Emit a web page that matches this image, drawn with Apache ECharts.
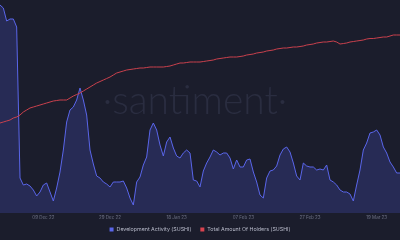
<!DOCTYPE html>
<html><head><meta charset="utf-8">
<script src="https://cdn.jsdelivr.net/npm/echarts@6/dist/echarts.min.js"></script>
<style>html,body{margin:0;padding:0;background:#1b1d2c}#c{width:400px;height:240px}</style>
</head><body><div id="c"></div>
<script>
const startDate = '2022-11-26';
const dayCount = 121;
const tickLabels = ['09 Dec 22','29 Dec 22','18 Jan 23','07 Feb 23','27 Feb 23','19 Mar 23'];
const devActivity = [41.6,41.0,38.4,38.8,38.8,37.2,7.0,5.6,5.8,5.4,4.6,3.4,4.2,5.6,6.0,4.2,2.4,5.0,8.2,12.6,
18.2,20.6,21.2,22.6,25.0,22.6,19.6,12.6,9.8,7.4,7.0,6.2,5.8,5.2,6.2,6.2,6.2,6.4,5.0,3.0,
1.6,6.2,7.2,9.6,11.2,16.6,18.0,16.6,13.6,11.4,14.2,15.2,13.0,11.4,11.0,12.0,12.6,12.0,6.6,6.4,
5.2,8.4,10.0,11.2,12.6,12.2,11.6,12.0,12.0,11.0,8.8,10.6,9.2,9.2,10.6,10.8,8.2,6.2,3.6,3.0,
7.0,8.4,8.6,9.4,11.6,12.8,13.2,12.2,10.0,7.4,6.6,10.0,9.4,9.2,9.2,8.6,8.8,8.6,9.6,6.6,
6.2,5.6,4.6,4.2,4.2,3.8,2.4,5.6,8.6,12.6,14.0,16.0,16.2,16.6,15.6,13.2,12.0,10.2,9.2,8.0,8.0];
const holders = [100000,100025,100050,100075,100125,100150,100200,100275,100325,100375,100400,100425,100450,100475,100500,100525,100550,100562,100575,100575,
100575,100625,100675,100712,100750,100800,100850,100900,100950,101000,101037,101075,101112,101150,101200,101250,101275,101300,101325,101337,
101350,101362,101375,101375,101387,101400,101400,101400,101400,101400,101412,101425,101450,101475,101500,101500,101512,101525,101525,101525,
101525,101537,101550,101562,101575,101600,101612,101625,101637,101650,101650,101650,101662,101675,101700,101712,101725,101750,101762,101775,
101800,101812,101825,101850,101862,101875,101875,101887,101900,101900,101912,101925,101950,101962,101975,102000,102012,102025,102025,102037,
102050,102025,101975,101987,102000,102025,102037,102050,102062,102075,102100,102112,102112,102125,102137,102150,102150,102175,102200,102200,102200];

const months = ['Jan','Feb','Mar','Apr','May','Jun','Jul','Aug','Sep','Oct','Nov','Dec'];
const categories = [];
const d0 = new Date(startDate + 'T00:00:00Z');
for (let i = 0; i < dayCount; i++) {
  const d = new Date(d0.getTime() + i * 86400000);
  categories.push(String(d.getUTCDate()).padStart(2,'0') + ' ' + months[d.getUTCMonth()] + ' ' + String(d.getUTCFullYear()).slice(2));
}

const chart = echarts.init(document.getElementById('c'), null, {renderer:'canvas'});
chart.setOption({
  backgroundColor: '#1b1d2c',
  animation: false,
  graphic: [{
    type: 'text', z: 0,
    style: { text: '·santiment·', x: 195, y: 101, align: 'center', verticalAlign: 'middle',
             fontSize: 39, fontFamily: 'Lato, "Open Sans", sans-serif', fontWeight: 300, fill: '#2a2d40' }
  }],
  legend: {
    bottom: 3, left: 'center', itemWidth: 4, itemHeight: 4, itemGap: 9, icon: 'rect',
    textStyle: { color: '#b9bccb', fontSize: 5.3, fontFamily: 'Inter, Roboto, sans-serif', padding: [0,0,0,-2] },
    data: ['Development Activity (SUSHI)', 'Total Amount Of Holders (SUSHI)']
  },
  grid: { left: 0, right: 0, top: 0, bottom: 27 },
  xAxis: {
    type: 'category', data: categories, boundaryGap: false,
    axisLine: { show: false }, axisTick: { show: false },
    axisLabel: {
      color: '#6e7286', fontSize: 4.5, margin: 2, fontFamily: 'Inter, Roboto, sans-serif',
      interval: (idx, val) => tickLabels.includes(val)
    },
    splitLine: { show: false }
  },
  yAxis: [
    { type: 'value', min: 0, max: 42.6, show: false, splitLine: { show: false } },
    { type: 'value', min: 97750, max: 103075, show: false, splitLine: { show: false } }
  ],
  series: [
    {
      name: 'Development Activity (SUSHI)', type: 'line', yAxisIndex: 0, data: devActivity,
      symbol: 'none', z: 2,
      itemStyle: { color: '#5a66ea' },
      lineStyle: { color: '#5a66ea', width: 1 },
      areaStyle: { color: '#272b55', opacity: 1 }
    },
    {
      name: 'Total Amount Of Holders (SUSHI)', type: 'line', yAxisIndex: 1, data: holders,
      symbol: 'none', z: 3,
      itemStyle: { color: '#d9434f' },
      lineStyle: { color: '#c9414d', width: 1 }
    }
  ]
});
</script>
</body></html>
